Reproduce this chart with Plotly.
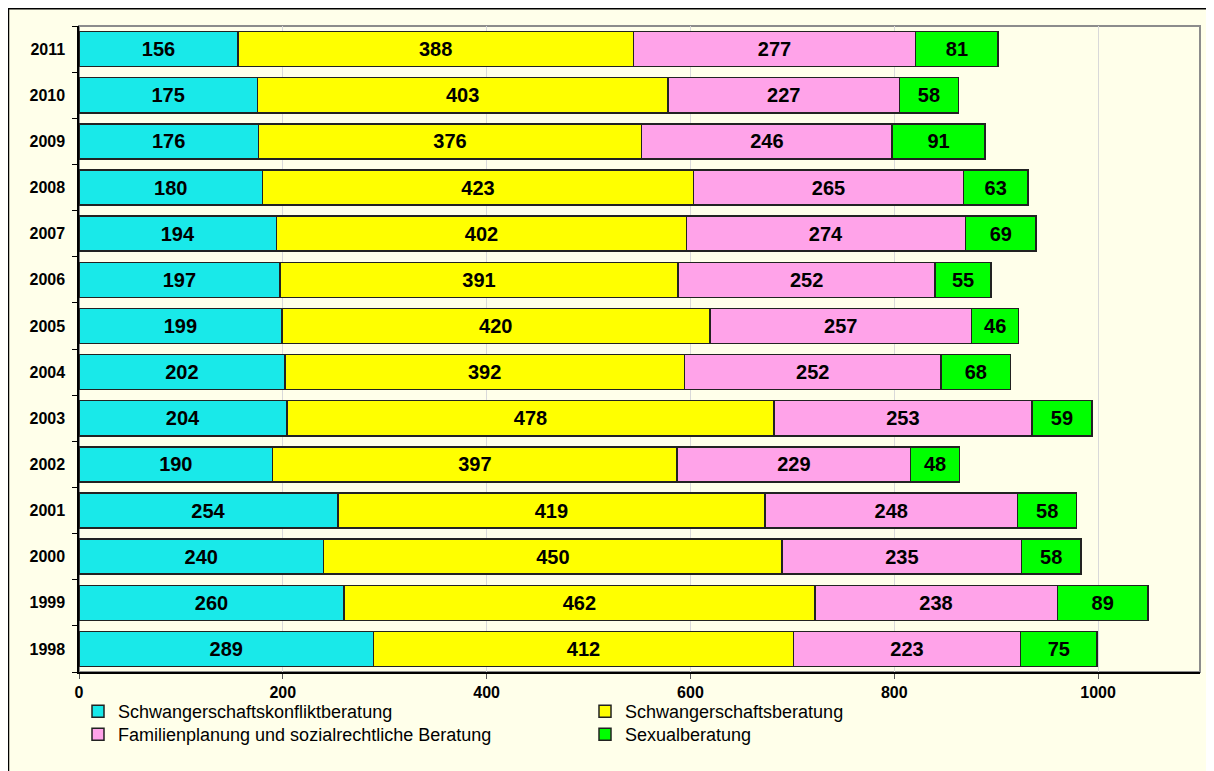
import plotly.graph_objects as go

years = ["1998", "1999", "2000", "2001", "2002", "2003", "2004",
         "2005", "2006", "2007", "2008", "2009", "2010", "2011"]
konflikt = [289, 260, 240, 254, 190, 204, 202, 199, 197, 194, 180, 176, 175, 156]
schwanger = [412, 462, 450, 419, 397, 478, 392, 420, 391, 402, 423, 376, 403, 388]
familien = [223, 238, 235, 248, 229, 253, 252, 257, 252, 274, 265, 246, 227, 277]
sexual = [75, 89, 58, 58, 48, 59, 68, 46, 55, 69, 63, 91, 58, 81]

series = [
    ("Schwangerschaftskonfliktberatung", konflikt, "#19E9E9", "legend"),
    ("Schwangerschaftsberatung", schwanger, "#FFFF00", "legend"),
    ("Familienplanung und sozialrechtliche Beratung", familien, "#FFA3E9", "legend2"),
    ("Sexualberatung", sexual, "#00FF00", "legend2"),
]

BG = "#FFFFEA"
OFF = 8  # page body margin
W, H = 1214 - OFF, 771 - OFF
# plot area in screen pixels: x 79..1200, y 26..672
L, R, T, B = 79 - OFF, W - (1200 - OFF), 26 - OFF, H - (672 - OFF)
pw, ph = W - L - R, H - T - B

def px2x(p):  # screen px -> paper
    return (p - OFF - L) / pw

def py2y(p):
    return (H - B - (p - OFF)) / ph

fig = go.Figure()
for name, vals, col, lg in series:
    fig.add_trace(go.Bar(
        y=years, x=vals, name=name, orientation="h", legend=lg,
        marker=dict(color=col, line=dict(color="#222222", width=1.5)),
        text=[str(v) for v in vals], textposition="inside",
        insidetextanchor="middle",
        textfont=dict(family="Arial", size=20, color="black", weight="bold"),
        hoverinfo="skip",
    ))

leg_common = dict(
    orientation="h", xanchor="left", yanchor="top",
    entrywidth=462, entrywidthmode="pixels",
    font=dict(family="Arial", size=18, color="black"),
    bgcolor="rgba(0,0,0,0)", traceorder="normal", tracegroupgap=0,
)

fig.update_layout(
    width=W, height=H,
    barmode="stack", bargap=0.24,
    paper_bgcolor="white", plot_bgcolor=BG,
    margin=dict(l=L, r=R, t=T, b=B, autoexpand=False),
    font=dict(family="Arial", color="black"),
    uniformtext=dict(mode="show", minsize=20),
    showlegend=True,
    legend=dict(x=px2x(78), y=py2y(693), **leg_common),
    legend2=dict(x=px2x(78), y=py2y(716), **leg_common),
    xaxis=dict(
        range=[0, 1100], tickvals=[0, 200, 400, 600, 800, 1000],
        showgrid=True, gridcolor="#D9D9D9", gridwidth=1,
        showline=True, linecolor="black", linewidth=1.5,
        ticks="outside", ticklen=5, tickcolor="#555555",
        tickfont=dict(family="Arial", size=16, color="black", weight="bold"),
        zeroline=False, fixedrange=True, automargin=False,
    ),
    yaxis=dict(
        type="category", categoryorder="array", categoryarray=years,
        showline=True, linecolor="black", linewidth=1.5,
        ticks="outside", ticklen=5, tickcolor="black", tickson="boundaries",
        tickfont=dict(family="Arial", size=16, color="black", weight="bold"),
        showgrid=False, fixedrange=True, ticksuffix="  ", automargin=False,
    ),
    shapes=[
        dict(type="rect", xref="paper", yref="paper",
             x0=px2x(8.5), x1=px2x(1240), y0=py2y(800), y1=py2y(8.7),
             line=dict(color="black", width=1.5), fillcolor=BG, layer="below"),
        dict(type="rect", xref="paper", yref="paper",
             x0=0, x1=1, y0=0, y1=1,
             line=dict(color="#8C8C8C", width=2), fillcolor="rgba(0,0,0,0)",
             layer="below"),
    ],
)

fig.write_html("out.html")
